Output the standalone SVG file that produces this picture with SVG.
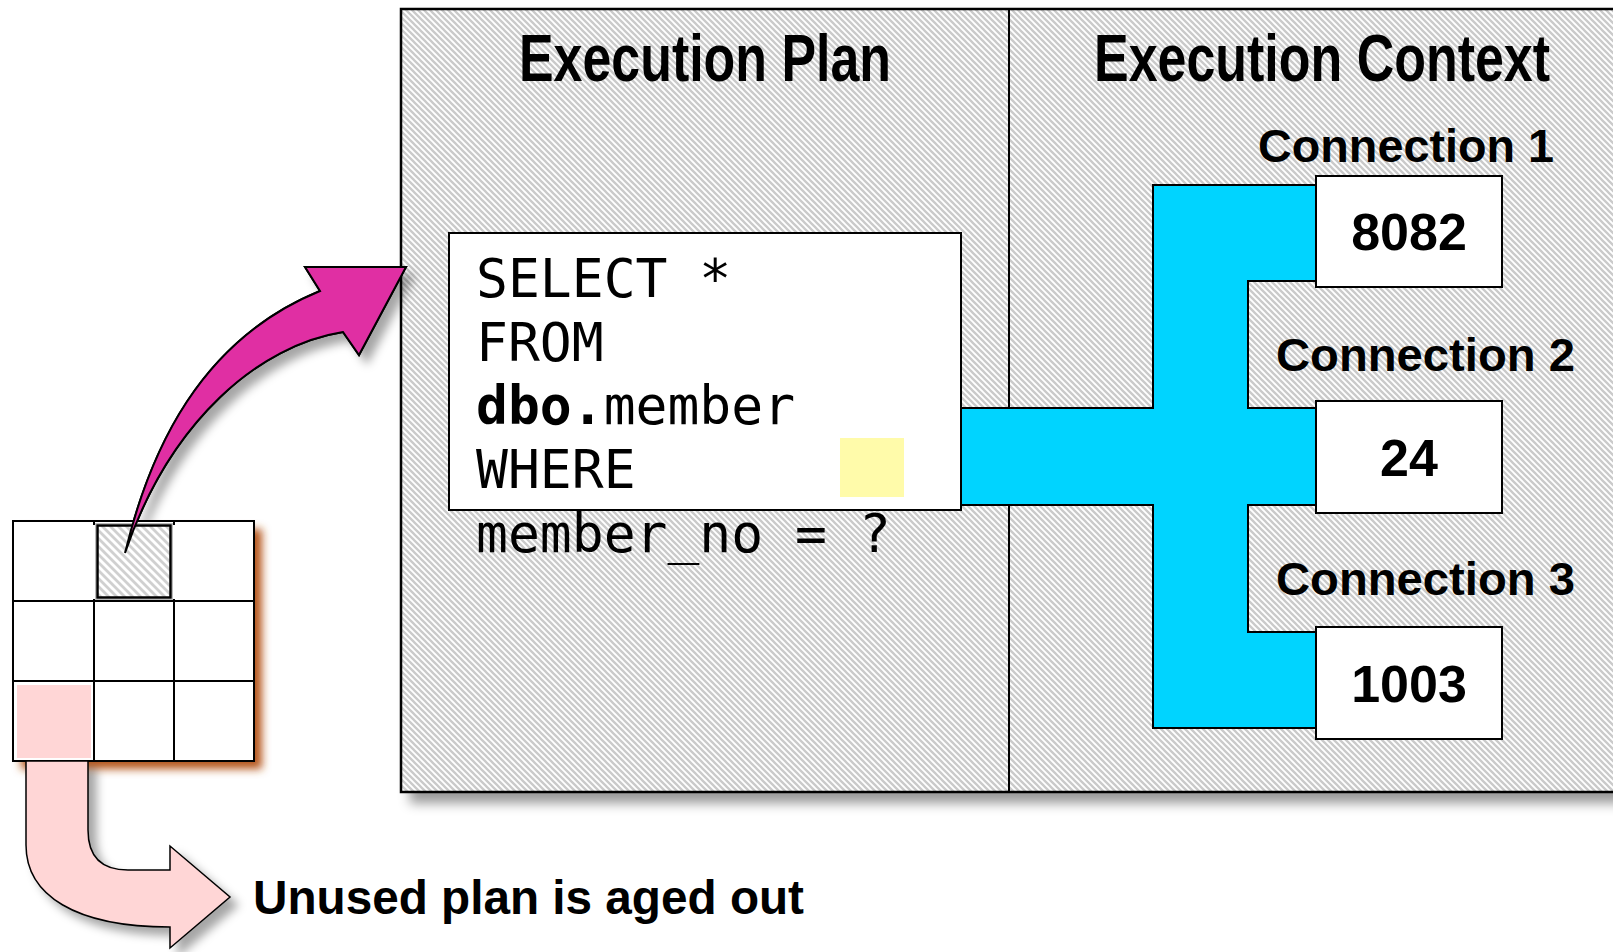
<svg xmlns="http://www.w3.org/2000/svg" width="1613" height="952" viewBox="0 0 1613 952">
<style>
.title{font-family:"Liberation Sans Narrow","Liberation Sans",Arial,sans-serif;font-weight:bold;fill:#000}
.lbl{font-family:"Liberation Sans",Arial,sans-serif;font-weight:bold;fill:#000}
.code{font-family:"DejaVu Sans Mono","Liberation Mono",monospace;font-size:53px;fill:#000}
.box{fill:#fff;stroke:#000;stroke-width:2}
.cell{fill:none;stroke:#000;stroke-width:2}
</style>
<defs>
<pattern id="hatch" width="6" height="6" patternUnits="userSpaceOnUse">
<rect width="6" height="6" fill="#fff"/>
<path d="M-1.5,1.5 L1.5,-1.5 M0,6 L6,0 M4.5,7.5 L7.5,4.5" transform="scale(-1,1) translate(-6,0)" stroke="#cacaca" stroke-width="2.3"/>
</pattern>
<pattern id="hatch2" width="8" height="8" patternUnits="userSpaceOnUse">
<rect width="8" height="8" fill="#fff"/>
<path d="M-2,2 L2,-2 M0,8 L8,0 M6,10 L10,6" transform="scale(-1,1) translate(-8,0)" stroke="#d0d0d0" stroke-width="2.8"/>
</pattern>
<filter id="shPanel" x="-5%" y="-5%" width="115%" height="115%">
<feDropShadow dx="10" dy="10" stdDeviation="6" flood-color="#000" flood-opacity="0.4"/>
</filter>
<filter id="shGrid" x="-20%" y="-20%" width="150%" height="150%">
<feDropShadow dx="8" dy="8" stdDeviation="4" flood-color="#b5561a" flood-opacity="1"/>
</filter>
<filter id="shArrow" x="-30%" y="-30%" width="170%" height="170%">
<feDropShadow dx="8" dy="8" stdDeviation="5" flood-color="#000" flood-opacity="0.35"/>
</filter>
</defs>

<g id="panel">
<rect x="401" y="9" width="1240" height="783" fill="url(#hatch)" stroke="#000" stroke-width="2.5" filter="url(#shPanel)"/>
<line x1="1009" y1="9" x2="1009" y2="792" stroke="#000" stroke-width="2"/>
<text class="title" x="519" y="81" font-size="66" textLength="372" lengthAdjust="spacingAndGlyphs">Execution Plan</text>
<text class="title" x="1094" y="81" font-size="66" textLength="456" lengthAdjust="spacingAndGlyphs">Execution Context</text>
</g>

<g id="connectors">
<path d="M961,408 L1153,408 L1153,185 L1316,185 L1316,281 L1248,281 L1248,408 L1316,408 L1316,505 L1248,505 L1248,632 L1316,632 L1316,728 L1153,728 L1153,505 L961,505 Z" fill="#00d4ff" stroke="#000" stroke-width="2"/>
<path d="M125,553 C150,450 200,340 320,291 L305,267 L406,267 L359,355 L343,332 C260,345 170,420 125,553 Z" fill="#e02fa3" stroke="#000" stroke-width="2" filter="url(#shArrow)"/>
</g>

<g id="code-box">
<rect class="box" x="449" y="233" width="512" height="277"/>
<rect x="840" y="438" width="64" height="59" fill="#fffbaa"/>
<text class="code" x="476" y="297">SELECT *</text>
<text class="code" x="476" y="361">FROM</text>
<text class="code" x="476" y="424"><tspan font-weight="bold">dbo.</tspan>member</text>
<text class="code" x="476" y="488">WHERE</text>
<text class="code" x="476" y="552">member_no = ?</text>
</g>

<g id="conn1">
<text class="lbl" x="1258" y="162" font-size="46" textLength="296" lengthAdjust="spacingAndGlyphs">Connection 1</text>
<rect class="box" x="1316" y="176" width="186" height="111"/>
<text class="lbl" x="1409" y="250" font-size="52" text-anchor="middle">8082</text>
</g>
<g id="conn2">
<text class="lbl" x="1276" y="371" font-size="46" textLength="299" lengthAdjust="spacingAndGlyphs">Connection 2</text>
<rect class="box" x="1316" y="401" width="186" height="112"/>
<text class="lbl" x="1409" y="476" font-size="52" text-anchor="middle">24</text>
</g>
<g id="conn3">
<text class="lbl" x="1276" y="595" font-size="46" textLength="299" lengthAdjust="spacingAndGlyphs">Connection 3</text>
<rect class="box" x="1316" y="627" width="186" height="112"/>
<text class="lbl" x="1409" y="702" font-size="52" text-anchor="middle">1003</text>
</g>

<g id="cache-grid">
<rect x="13" y="521" width="241" height="240" fill="#fff" filter="url(#shGrid)"/>
<rect x="17" y="685" width="74" height="73" fill="#ffd6d6"/>
<rect x="95.5" y="523.5" width="77" height="76" fill="none" stroke="#bbb" stroke-width="1"/>
<rect x="97.5" y="525.5" width="73" height="72" fill="url(#hatch2)" stroke="#000" stroke-width="2.5"/>
<path class="cell" d="M94,521 V525 M94,599 V761 M174,521 V525 M174,599 V761 M13,601 H254 M13,681 H254"/>
<rect class="cell" x="13" y="521" width="241" height="240"/>
</g>

<g id="aged-out">
<path d="M26,761 L26,845 C26,895 75,927 170,927 L170,948 L230,897 L170,846 L170,870 L128,870 Q88,870 88,830 L88,761 Z" fill="#ffd6d6" stroke="#000" stroke-width="1.5" filter="url(#shArrow)"/>
<text class="lbl" x="253" y="914" font-size="48" textLength="551" lengthAdjust="spacingAndGlyphs">Unused plan is aged out</text>
</g>

<path d="M125,553 C150,450 200,340 320,291 L305,267 L406,267 L359,355 L343,332 C260,345 170,420 125,553 Z" fill="#e02fa3" stroke="#000" stroke-width="2"/>
</svg>
